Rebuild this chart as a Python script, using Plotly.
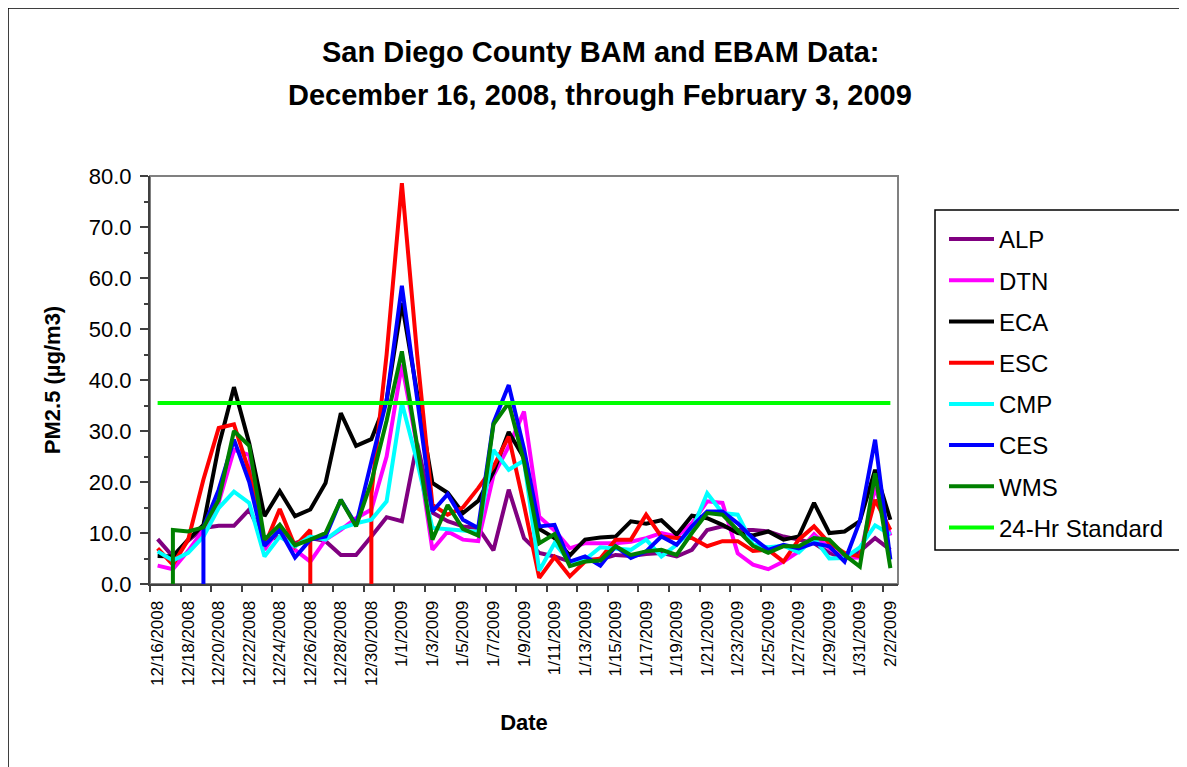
import pandas as pd
import plotly.graph_objects as go

# ---- categories -------------------------------------------------------------
dates = pd.date_range("2008-12-16", "2009-02-02", freq="D")
tick_dates = dates[::2]
tick_labels = [f"{d.month}/{d.day}/{d.year}" for d in tick_dates]

# ---- series values (µg/m3), one value per day, None = no data ---------------
ALP = [8.8, 5.4, 8.5, 11.0, 11.4, 11.4, 14.6, 8.5, 9.3, 8.0,
       9.0, 8.4, 5.7, 5.7, 9.3, 13.1, 12.3, 27.6, 14.0, 12.3,
       11.3, 11.0, 6.6, 18.5, 9.0, 6.1, 5.4, 4.4, 4.8, 4.8,
       5.7, 5.5, 5.9, 6.1, 5.4, 6.7, 10.6, 11.3, 10.6, 10.6,
       10.3, 9.3, 8.7, 8.0, 6.1, 5.1, 6.4, 9.0, 6.7]
DTN = [3.6, 2.9, 6.5, 10.6, 16.0, 26.3, 25.3, 6.7, 11.0, 6.7,
       4.4, 8.7, 10.6, 12.9, 14.6, 25.0, 43.0, 27.0, 6.7, 10.3,
       8.7, 8.4, 21.3, 27.0, 33.8, 13.2, 10.5, 7.0, 8.0, 8.0,
       8.0, 8.3, 9.0, 10.0, 9.3, 11.9, 16.2, 15.9, 6.0, 3.8,
       2.9, 4.4, 6.4, 9.8, 7.0, 5.1, 5.2, 19.0, 9.5]
ECA = [5.5, 5.4, 8.7, 11.6, 27.0, 38.6, 27.6, 13.3, 18.2, 13.3,
       14.6, 19.8, 33.5, 27.1, 28.4, 36.0, 55.1, 38.0, 19.8, 17.9,
       13.9, 16.3, 22.0, 29.8, 24.7, 10.8, 9.0, 5.6, 8.7, 9.1,
       9.3, 12.3, 11.8, 12.5, 9.7, 13.4, 12.9, 11.6, 10.0, 9.5,
       10.3, 8.7, 9.3, 15.9, 10.0, 10.3, 12.3, 22.4, 12.6]
ESC = [7.0, 3.8, 8.7, 20.5, 30.6, 31.3, 22.0, 7.5, 14.7, 7.4,
       10.6, None, None, None, 17.5, 45.0, 78.6, 45.0, 15.5, 13.6,
       15.0, 18.8, 23.0, 28.9, 15.5, 1.2, 5.3, 1.5, 4.4, 5.0,
       8.7, 8.7, 13.6, 9.3, 9.0, 9.0, 7.4, 8.4, 8.4, 6.5,
       6.7, 4.4, 8.7, 11.3, 8.0, 6.1, 5.4, 16.5, 10.6]
CMP = [6.4, 4.6, 6.1, 9.3, 14.9, 18.1, 15.9, 5.4, 9.3, 7.4,
       9.3, 8.7, 10.9, 11.9, 12.6, 16.2, 35.5, 24.0, 11.0, 10.8,
       10.5, 10.2, 26.3, 22.4, 24.2, 2.6, 8.0, 4.4, 4.8, 7.2,
       7.0, 6.7, 8.7, 5.4, 7.7, 10.6, 17.8, 13.9, 13.6, 7.7,
       7.2, 7.5, 6.2, 9.0, 5.0, 5.1, 7.2, 11.5, 9.7]
CES = [None, None, None, 11.1, 18.5, 28.3, 20.0, 7.5, 10.6, 5.2,
       8.7, 9.3, 16.5, 11.6, 24.0, 36.0, 58.5, 37.0, 14.2, 17.6,
       12.6, 11.0, 31.6, 39.0, 26.5, 11.3, 11.6, 4.4, 5.4, 3.6,
       7.4, 5.1, 6.4, 9.3, 7.7, 11.3, 14.2, 14.2, 11.9, 9.0,
       6.7, 7.7, 7.0, 8.0, 7.4, 4.4, 12.3, 28.3, 4.8]
WMS = [None, 10.6, 10.3, 11.1, 16.5, 30.0, 27.1, 8.7, 11.6, 7.6,
       8.7, 10.0, 16.5, 11.3, 20.0, 32.0, 45.6, 27.0, 8.7, 15.5,
       10.8, 9.5, 31.3, 35.5, 24.0, 8.0, 9.8, 3.5, 4.4, 4.6,
       7.4, 5.7, 6.4, 6.7, 5.7, 10.0, 13.9, 13.6, 10.6, 7.5,
       6.1, 7.4, 7.4, 9.0, 8.7, 5.7, 3.4, 21.7, 3.1]
STANDARD = 35.5

# days on which a station also logged a 0.0 record (missing sample)
zero_records = {
    "WMS": ["2008-12-17"],
    "CES": ["2008-12-19"],
    "ESC": ["2008-12-26", "2008-12-30"],
}

series_names = ["ALP", "DTN", "ECA", "ESC", "CMP", "CES", "WMS"]
series_values = [ALP, DTN, ECA, ESC, CMP, CES, WMS]
series_colors = ["#800080", "#FF00FF", "#000000", "#FF0000",
                 "#00FFFF", "#0000FF", "#008000"]


def build(values, zeros):
    xs, ys = [], []
    prev = None
    for d, v in zip(dates, values):
        ds = d.strftime("%Y-%m-%d")
        if ds in zeros and v is not None:
            xs += [ds, ds]
            ys += [v, 0.0] if prev is not None else [0.0, v]
        else:
            xs.append(ds)
            ys.append(v)
        prev = v
    return xs, ys


fig = go.Figure()
for name, vals, col in zip(series_names, series_values, series_colors):
    xs, ys = build(vals, zero_records.get(name, []))
    fig.add_trace(go.Scatter(
        x=xs, y=ys, name=name, mode="lines", connectgaps=False,
        line=dict(color=col, width=4), legendgroup=name))

fig.add_trace(go.Scatter(
    x=[d.strftime("%Y-%m-%d") for d in dates], y=[STANDARD] * len(dates),
    name="24-Hr Standard", mode="lines",
    line=dict(color="#00FF00", width=4), legendgroup="std"))

# ---- layout (page body adds an 8px offset) ----------------------------------
OFF = 8
W, H = 1187 - OFF, 767 - OFF
L, T = 150 - OFF, 176 - OFF
pw, ph = 748, 408
R, B = W - L - pw, H - T - ph


def px(xs):  # screen x -> paper x
    return (xs - OFF - L) / pw


def py(ys):  # screen y -> paper y
    return (T + ph - (ys - OFF)) / ph


half_day = pd.Timedelta(hours=12)
x_range = [dates[0] - half_day, dates[-1] + half_day]
boundaries = [dates[0] - half_day + pd.Timedelta(days=2 * k) for k in range(25)]

font_family = "Liberation Sans, Arial, sans-serif"

fig.update_layout(
    width=W, height=H,
    margin=dict(l=L, r=R, t=T, b=B, autoexpand=False),
    paper_bgcolor="white", plot_bgcolor="white",
    font=dict(family=font_family, color="black"),
    showlegend=True,
    legend=dict(
        x=px(944), y=py(217), xanchor="left", yanchor="top",
        bgcolor="rgba(0,0,0,0)", borderwidth=0,
        font=dict(size=24, family=font_family, color="black"),
        tracegroupgap=7, itemwidth=45,
    ),
    xaxis=dict(
        type="date", range=x_range,
        tickmode="array", tickvals=list(tick_dates), ticktext=tick_labels,
        tickangle=-90, ticks="", ticklabelstandoff=8,
        tickfont=dict(size=17, color="black"),
        minor=dict(tickmode="array", tickvals=boundaries, ticks="outside",
                   ticklen=6, tickwidth=1.5, tickcolor="#404040", showgrid=False),
        showgrid=False, zeroline=False,
        showline=True, linecolor="#404040", linewidth=2,
        title=dict(text="<b>Date</b>", font=dict(size=22), standoff=30),
    ),
    yaxis=dict(
        range=[0, 80], tickmode="linear", tick0=0, dtick=10, tickformat=".1f",
        ticks="outside", ticklen=8, tickwidth=1.5, tickcolor="#404040",
        tickfont=dict(size=22, color="black"), ticklabelstandoff=4,
        minor=dict(dtick=5, ticks="outside", ticklen=4, tickwidth=1.5,
                   tickcolor="#404040", showgrid=False),
        showgrid=False, zeroline=False,
        showline=True, linecolor="#404040", linewidth=2,
        title=dict(text="<b>PM2.5 (µg/m3)</b>", font=dict(size=22), standoff=22),
    ),
    shapes=[
        dict(type="rect", xref="paper", yref="paper", x0=0, x1=1, y0=0, y1=1,
             line=dict(color="#808080", width=2), layer="below"),
        dict(type="rect", xref="paper", yref="paper",
             x0=px(935), x1=px(1180), y0=py(550), y1=py(210),
             line=dict(color="black", width=1.5), layer="below"),
        dict(type="rect", xref="paper", yref="paper",
             x0=px(8), x1=px(1180), y0=py(800), y1=py(8),
             line=dict(color="black", width=1.5), layer="below"),
    ],
    annotations=[
        dict(text="<b>San Diego County BAM and EBAM Data:</b>",
             xref="paper", yref="paper", x=px(600), y=py(52),
             xanchor="center", yanchor="middle", showarrow=False,
             font=dict(size=29, color="black")),
        dict(text="<b>December 16, 2008, through February 3, 2009</b>",
             xref="paper", yref="paper", x=px(600), y=py(95),
             xanchor="center", yanchor="middle", showarrow=False,
             font=dict(size=29, color="black")),
    ],
)

fig.write_html("out.html")
